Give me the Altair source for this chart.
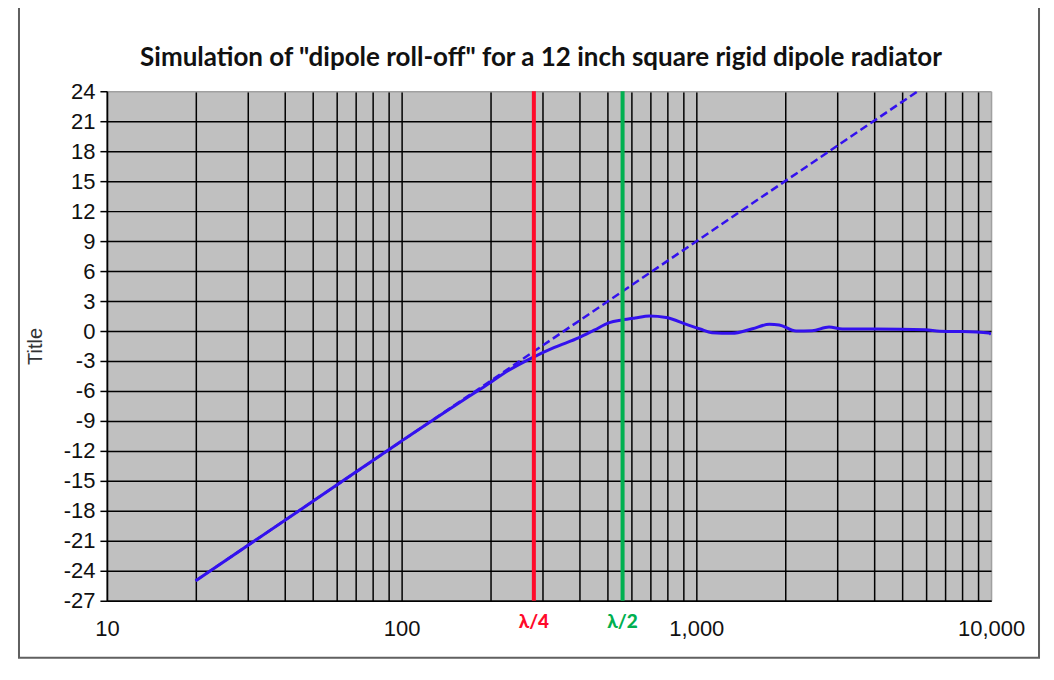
import altair as alt
import pandas as pd

# ---- data ----
solid_freq = [20, 50, 100, 150, 190, 232, 278, 330, 400, 450, 507, 561, 620, 693, 790,
              925, 1030, 1130, 1320, 1550, 1770, 1910, 2180, 2470, 2820, 3130, 4070,
              6000, 6700, 8000, 9840, 10000]
solid_db = [-25.0, -17.05, -11.0, -7.55, -5.6, -3.9, -2.66, -1.65, -0.66, 0.08, 0.84, 1.1,
            1.3, 1.5, 1.35, 0.67, 0.2, -0.17, -0.23, 0.23, 0.67, 0.6, 0.0, 0.03, 0.4, 0.2,
            0.2, 0.13, -0.03, -0.05, -0.2, -0.35]

dashed_freq = [20, 5640]
dashed_db = [-25.0, 24.0]

marker_names = ["λ/4", "λ/2"]
marker_freq = [281, 562]
marker_colors = ["#ff0a2a", "#00b050"]

x_grid_values = [10, 20, 30, 40, 50, 60, 70, 80, 90,
                 100, 200, 300, 400, 500, 600, 700, 800, 900,
                 1000, 2000, 3000, 4000, 5000, 6000, 7000, 8000, 9000, 10000]
x_label_values = [10, 100, 1000, 10000]
y_values = [-27, -24, -21, -18, -15, -12, -9, -6, -3, 0, 3, 6, 9, 12, 15, 18, 21, 24]

title_text = 'Simulation of "dipole roll-off" for a 12 inch square rigid dipole radiator'
y_title = "Title"

W, H = 885, 510
BLUE = "#3311ee"

solid_df = pd.DataFrame({"f": solid_freq, "db": solid_db})
dashed_df = pd.DataFrame({"f": dashed_freq, "db": dashed_db})
marker_df = pd.DataFrame({"name": marker_names, "f": marker_freq})

label_expr = ("indexof([" + ",".join(str(v) for v in x_label_values) +
              "], datum.value) >= 0 ? format(datum.value, ',') : ''")
y_label_expr = "datum.value < 0 ? '-' + abs(datum.value) : '' + datum.value"

x_scale = alt.Scale(type="log", domain=[10, 10000], nice=False)
y_scale = alt.Scale(domain=[-27, 24], nice=False)

x_axis = alt.Axis(
    values=x_grid_values, labelExpr=label_expr, title=None, ticks=False,
    tickCount=100,
    labelFont="Liberation Sans", labelFontSize=22, labelColor="#111",
    labelPadding=18, labelFlush=False, labelOverlap=False, labelBound=False,
    domainColor="black", domainWidth=1.5,
    grid=True,
    gridColor=alt.condition("datum.value == 10000", alt.value("#a0a0a0"), alt.value("black")),
    gridWidth=1.5, gridOpacity=1,
)
y_axis = alt.Axis(
    values=y_values, title=y_title, labelExpr=y_label_expr, tickCount=100,
    labelFont="Liberation Sans", labelFontSize=22, labelColor="#111",
    labelOverlap=False, labelFlush=False, labelBound=False,
    labelPadding=5, tickSize=7, tickColor="black", tickWidth=1.5,
    domainColor="black", domainWidth=1.5,
    grid=True,
    gridColor=alt.condition("datum.value == 24", alt.value("#a0a0a0"), alt.value("black")),
    gridWidth=1.5, gridOpacity=1,
    titleFont="Liberation Sans", titleFontSize=20, titleFontWeight="normal",
    titleColor="#333", titleAngle=270, titleX=-71, titleY=H / 2,
    titleAlign="center", titleBaseline="middle",
)

frame = alt.Chart(pd.DataFrame({"k": [0]})).mark_rect(
    fillOpacity=0, stroke="#606060", strokeWidth=2, clip=False
).encode(
    x=alt.value(-88), x2=alt.value(933), y=alt.value(-86), y2=alt.value(567)
)

base_grid = alt.Chart(solid_df).mark_line(opacity=0).encode(
    x=alt.X("f:Q", scale=x_scale, axis=x_axis),
    y=alt.Y("db:Q", scale=y_scale, axis=y_axis),
)

dashed = alt.Chart(dashed_df).mark_line(
    color=BLUE, strokeWidth=2.5, strokeDash=[8, 4], clip=True
).encode(
    x=alt.X("f:Q", scale=x_scale),
    y=alt.Y("db:Q", scale=y_scale),
)

solid = alt.Chart(solid_df).mark_line(
    color=BLUE, strokeWidth=3, interpolate="monotone", clip=True
).encode(
    x=alt.X("f:Q", scale=x_scale),
    y=alt.Y("db:Q", scale=y_scale),
)

color_scale = alt.Scale(domain=marker_names, range=marker_colors)

rules = alt.Chart(marker_df).mark_rule(strokeWidth=4).encode(
    x=alt.X("f:Q", scale=x_scale),
    color=alt.Color("name:N", scale=color_scale, legend=None),
)

marker_labels = alt.Chart(marker_df).mark_text(
    font="Lato", fontSize=19, fontWeight=900, baseline="middle", clip=False
).encode(
    x=alt.X("f:Q", scale=x_scale),
    y=alt.value(H + 21),
    text="name:N",
    color=alt.Color("name:N", scale=color_scale, legend=None),
)

chart = alt.layer(base_grid, dashed, solid, rules, marker_labels, frame).properties(
    width=W, height=H,
    title=alt.TitleParams(
        title_text, font="Lato", fontSize=26, fontWeight="bold", color="#111",
        anchor="middle", offset=-67, dx=-8,
    ),
    autosize=alt.AutoSizeParams(type="none"),
    padding={"left": 99, "top": 83, "right": 55, "bottom": 75},
).configure(
    background="white",
    view=alt.ViewConfig(fill="#c0c0c0", stroke=None),
)

chart.save("out.html", embed_options={"renderer": "svg", "actions": False})
